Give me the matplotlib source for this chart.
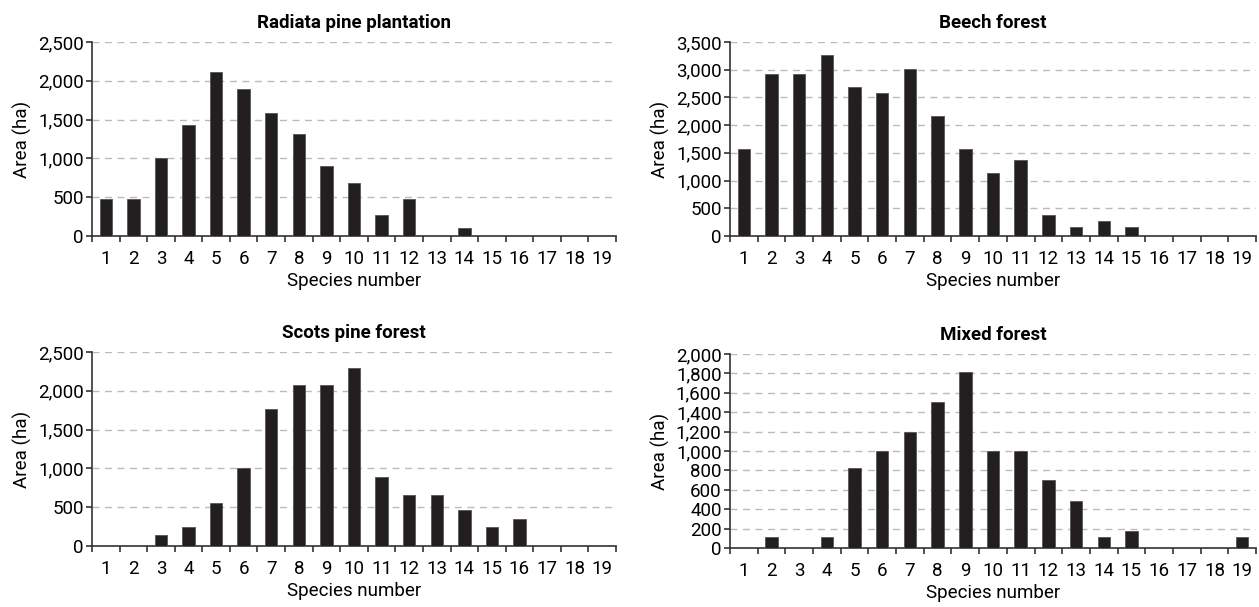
import matplotlib.pyplot as plt
from matplotlib.ticker import FuncFormatter, MultipleLocator
import numpy as np

species = list(range(1, 20))

radiata = [480, 480, 1000, 1430, 2110, 1900, 1590, 1320, 900, 680,
           270, 480, 0, 100, 0, 0, 0, 0, 0]
beech = [1570, 2920, 2920, 3270, 2680, 2580, 3020, 2160, 1570, 1130,
         1380, 370, 170, 270, 170, 0, 0, 0, 0]
scots = [0, 0, 140, 240, 550, 1000, 1770, 2080, 2080, 2290,
         890, 660, 660, 460, 240, 350, 0, 0, 0]
mixed = [0, 110, 0, 110, 820, 1000, 1200, 1510, 1810, 1000,
         1000, 700, 480, 110, 180, 0, 0, 0, 110]

titles = ['Radiata pine plantation', 'Beech forest', 'Scots pine forest', 'Mixed forest']
ymax = [2500, 3500, 2500, 2000]
ystep = [500, 500, 500, 200]

plt.rcParams['font.family'] = ['Roboto', 'DejaVu Sans']

W, H = 1259, 607
fig = plt.figure(figsize=(W / 100, H / 100), dpi=100)

# axes boxes in pixels: left, right, top, bottom
boxes = [(92, 616, 42, 236), (730, 1256, 42, 236),
         (92, 616, 352, 546), (730, 1256, 354, 548)]

dark = '#231f20'
for data, title, top, step, (l, r, t, b) in zip(
        [radiata, beech, scots, mixed], titles, ymax, ystep, boxes):
    ax = fig.add_axes([l / W, 1 - b / H, (r - l) / W, (b - t) / H])
    ax.bar(species, data, width=0.45, color=dark, edgecolor='#555555',
           linewidth=0.6, zorder=3)
    ax.set_xlim(0.5, 19.5)
    ax.set_ylim(0, top)
    ax.yaxis.set_major_locator(MultipleLocator(step))
    ax.yaxis.set_major_formatter(FuncFormatter(lambda v, p: f'{int(v):,}'))
    ax.set_xticks(species)
    ax.set_xticks(np.arange(0.5, 20, 1), minor=True)
    ax.tick_params(axis='x', which='major', length=0, pad=10, labelsize=13.5)
    ax.tick_params(axis='x', which='minor', length=4, width=1.2, color='#333333')
    ax.tick_params(axis='y', length=4, width=1.2, color='#333333', labelsize=13.5, pad=2)
    ax.spines['top'].set_visible(False)
    ax.spines['right'].set_visible(False)
    for s in ('left', 'bottom'):
        ax.spines[s].set_color('#333333')
        ax.spines[s].set_linewidth(1.2)
    ax.yaxis.grid(True, linestyle=(0, (5, 4)), color='#bbbbbb', linewidth=1.0, zorder=0)
    ax.set_axisbelow(True)
    ax.set_title(title, fontsize=13.5, fontweight='bold', pad=10)
    ax.set_xlabel('Species number', fontsize=13.5, labelpad=3)
    ax.set_ylabel('Area (ha)', fontsize=13.5, labelpad=4)

fig.savefig('out.png', dpi=100)
